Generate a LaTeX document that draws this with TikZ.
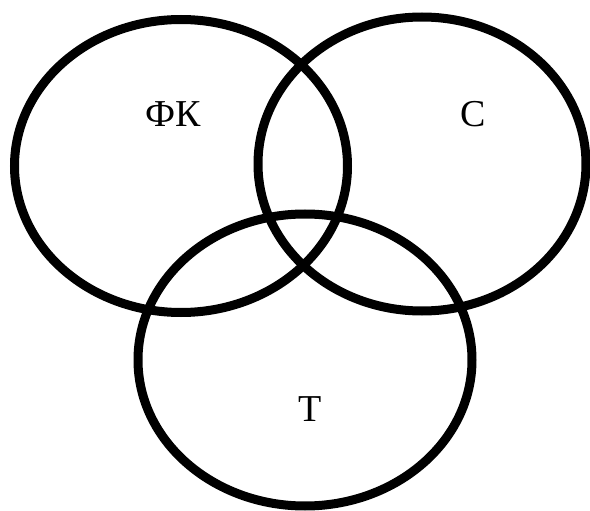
\documentclass[tikz,border=0pt]{standalone}
\usepackage{fontspec}
\setmainfont{Liberation Serif}
\usepackage{tikz}
\usetikzlibrary{positioning}

\begin{document}
\begin{tikzpicture}[x=1pt, y=-1pt,
    setline/.style={draw=black, line width=9pt},
    setlabel/.style={font=\fontsize{38}{40}\selectfont, text=black, inner sep=0pt}
  ]
  \useasboundingbox (0,0) rectangle (590,511);
  % three sets
  \draw[setline] (181,166) ellipse [x radius=166.5pt, y radius=146.5pt];
  \draw[setline] (422,164) ellipse [x radius=164pt, y radius=147pt];
  \draw[setline] (305,360) ellipse [x radius=167pt, y radius=146pt];
  % labels
  \node[setlabel] (fk) at (173,114) {ФК};
  \node[setlabel] (s) at (473,114) {С};
  \node[setlabel] (t) at (310,409) {Т};
\end{tikzpicture}
\end{document}
